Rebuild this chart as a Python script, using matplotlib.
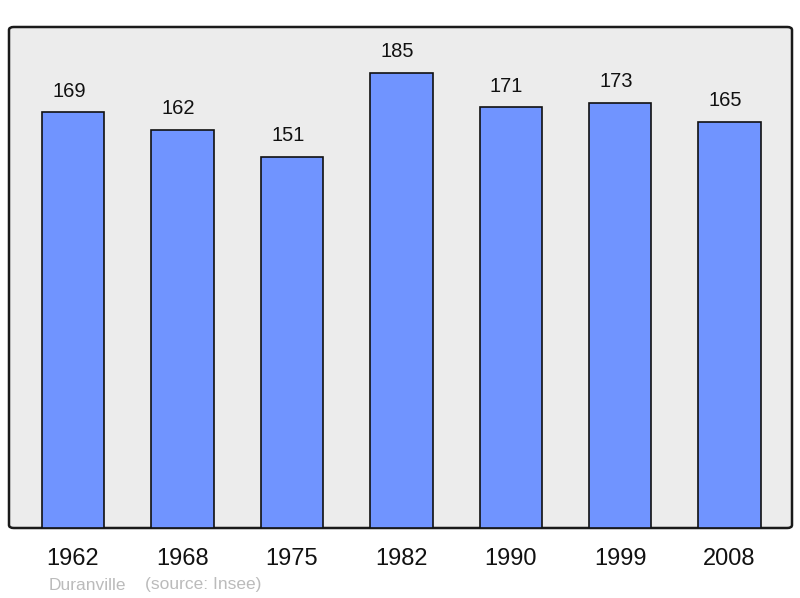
import matplotlib
matplotlib.use("Agg")
import matplotlib.pyplot as plt
from matplotlib.patches import FancyBboxPatch

# population data
years = ["1962", "1968", "1975", "1982", "1990", "1999", "2008"]
population = [169, 162, 151, 185, 171, 173, 165]
town = "Duranville"
source = "(source: Insee)"

plt.rcParams['font.family'] = ['Liberation Sans', 'DejaVu Sans']

fig = plt.figure(figsize=(8, 5.98), dpi=100)
ax = fig.add_axes([9 / 800, 70 / 598, 783 / 800, 501 / 598])
ax.set_axis_off()

# rounded background frame
frame = FancyBboxPatch((0, 0), 1, 1, boxstyle="round,pad=0,rounding_size=0.006",
                       transform=ax.transAxes, facecolor="#ececec",
                       edgecolor="#1a1a1a", linewidth=1.8, zorder=0, clip_on=False)
ax.add_patch(frame)

x = list(range(len(years)))
ax.bar(x, population, width=0.57, color="#7094ff", edgecolor="#111111",
       linewidth=1.2, zorder=2)
ax.set_xlim(-0.585, 6.57)
ax.set_ylim(0, 203.7)

# value labels sit a little left of the bar centre, as in the original
for xi, v in zip(x, population):
    ax.annotate(str(v), (xi, v), xytext=(-3, 8.5), textcoords="offset points",
                ha="center", va="bottom", fontsize=14.5, color="#111111")

for xi, lab in zip(x, years):
    ax.annotate(lab, (xi, 0), xytext=(0, -22.5), textcoords="offset points",
                ha="center", va="center", fontsize=17, color="#111111",
                annotation_clip=False)

fig.text(49 / 800, 1 - 585 / 598, town, fontsize=12.5, color="#bbbbbb",
         ha="left", va="center")
fig.text(145 / 800, 1 - 585 / 598, source, fontsize=12.5, color="#bbbbbb",
         ha="left", va="center")

fig.savefig("out.png", dpi=100)
